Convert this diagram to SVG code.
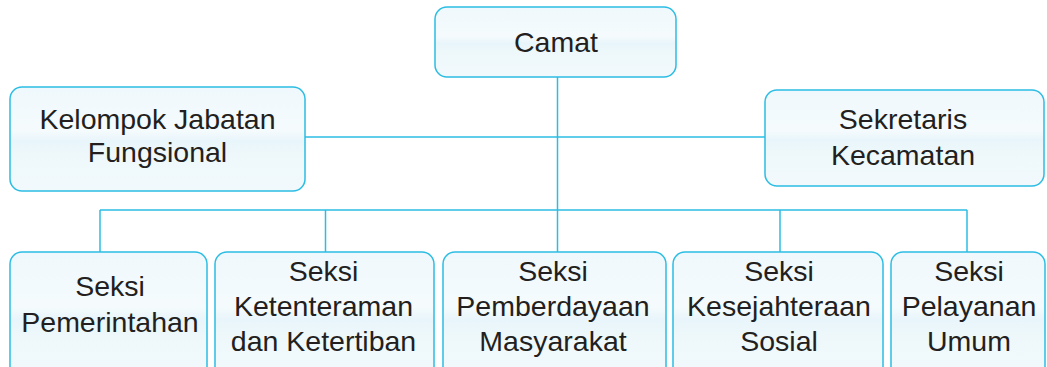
<svg xmlns="http://www.w3.org/2000/svg" width="1047" height="367" viewBox="0 0 1047 367">
  <defs>
    <linearGradient id="boxFill" x1="0" y1="0" x2="0" y2="1">
      <stop offset="0" stop-color="#eff8fc"/>
      <stop offset="0.42" stop-color="#f5fbfd"/>
      <stop offset="0.52" stop-color="#e8f5fa"/>
      <stop offset="0.65" stop-color="#eef8fb"/>
      <stop offset="1" stop-color="#f2f9fc"/>
    </linearGradient>
    <style>
      .box { fill: url(#boxFill); stroke: #2bbde3; stroke-width: 1.5; }
      .lbl { font-family: "Liberation Sans", Arial, sans-serif; font-size: 28.5px; fill: #231f20; text-anchor: middle; }
      .conn { stroke: #2bbde3; stroke-width: 1.5; fill: none; }
    </style>
  </defs>
  <rect width="1047" height="367" fill="#ffffff"/>

  <g id="connectors">
    <line class="conn" x1="557.5" y1="77" x2="557.5" y2="252"/>
    <line class="conn" x1="305" y1="137" x2="765" y2="137"/>
    <line class="conn" x1="100" y1="210" x2="967" y2="210"/>
    <line class="conn" x1="100" y1="210" x2="100" y2="252"/>
    <line class="conn" x1="325.5" y1="210" x2="325.5" y2="252"/>
    <line class="conn" x1="780" y1="210" x2="780" y2="252"/>
    <line class="conn" x1="967" y1="210" x2="967" y2="252"/>
  </g>

  <g id="camat">
    <rect class="box" x="435" y="7" width="241" height="70" rx="12"/>
    <text class="lbl" x="556" y="52">Camat</text>
  </g>

  <g id="kelompok-jabatan-fungsional">
    <rect class="box" x="10" y="87" width="295" height="104" rx="12"/>
    <text class="lbl" x="157.5" y="129">Kelompok Jabatan</text>
    <text class="lbl" x="157.5" y="162">Fungsional</text>
  </g>

  <g id="sekretaris-kecamatan">
    <rect class="box" x="765" y="90" width="279" height="96" rx="12"/>
    <text class="lbl" x="903" y="129">Sekretaris</text>
    <text class="lbl" x="903" y="165">Kecamatan</text>
  </g>

  <g id="seksi-pemerintahan">
    <rect class="box" x="10" y="252" width="197" height="130" rx="12"/>
    <text class="lbl" x="110" y="296">Seksi</text>
    <text class="lbl" x="110" y="332">Pemerintahan</text>
  </g>

  <g id="seksi-ketenteraman">
    <rect class="box" x="215" y="252" width="219" height="130" rx="12"/>
    <text class="lbl" x="323.5" y="281">Seksi</text>
    <text class="lbl" x="323.5" y="316">Ketenteraman</text>
    <text class="lbl" x="323.5" y="351">dan Ketertiban</text>
  </g>

  <g id="seksi-pemberdayaan">
    <rect class="box" x="443" y="252" width="223" height="130" rx="12"/>
    <text class="lbl" x="553" y="281">Seksi</text>
    <text class="lbl" x="553" y="316">Pemberdayaan</text>
    <text class="lbl" x="553" y="351">Masyarakat</text>
  </g>

  <g id="seksi-kesejahteraan">
    <rect class="box" x="673" y="252" width="210" height="130" rx="12"/>
    <text class="lbl" x="779" y="281">Seksi</text>
    <text class="lbl" x="779" y="316">Kesejahteraan</text>
    <text class="lbl" x="779" y="351">Sosial</text>
  </g>

  <g id="seksi-pelayanan">
    <rect class="box" x="891" y="252" width="154" height="130" rx="12"/>
    <text class="lbl" x="969" y="281">Seksi</text>
    <text class="lbl" x="969" y="316">Pelayanan</text>
    <text class="lbl" x="969" y="351">Umum</text>
  </g>
</svg>
